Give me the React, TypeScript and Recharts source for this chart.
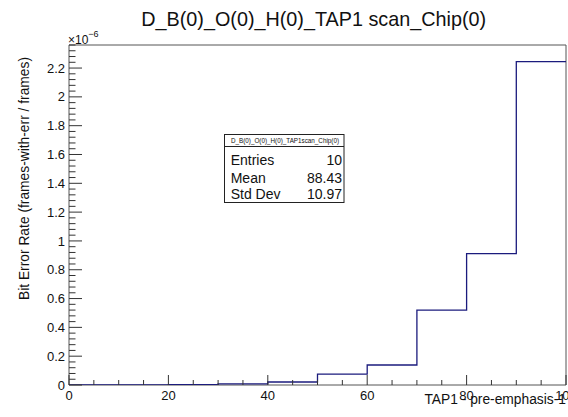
import React from 'react';
import { LineChart, Line, XAxis, YAxis, ReferenceArea } from 'recharts';

// Histogram: bin lower edges (width 10) and bin contents in units of 1e-6
const BIN_EDGES = [0, 10, 20, 30, 40, 50, 60, 70, 80, 90];
const BER_E6 = [0, 0, 0.003, 0.008, 0.021, 0.076, 0.139, 0.52, 0.912, 2.245];
const X_MAX = 100;
const Y_MAX = 2.36;

const X_TICK_LABELS = ['0', '20', '40', '60', '80', '100'];
const Y_TICK_LABELS = ['0', '0.2', '0.4', '0.6', '0.8', '1', '1.2', '1.4', '1.6', '1.8', '2', '2.2'];

const TITLE = 'D_B(0)_O(0)_H(0)_TAP1 scan_Chip(0)';
const X_TITLE = 'TAP1 - pre-emphasis-1';
const Y_TITLE = 'Bit Error Rate (frames-with-err / frames)';
const STATS_NAME = 'D_B(0)_O(0)_H(0)_TAP1scan_Chip(0)';
const STATS_LABELS = ['Entries', 'Mean', 'Std Dev'];
const STATS_VALUES = ['10', '88.43', '10.97'];

const FONT = '"Liberation Sans", Arial, Helvetica, sans-serif';
const TICK = '#333';
const FRAME = '#555';
const TEXT = '#111';
const LINE = '#1b1b7d';

const data = [
  ...BIN_EDGES.map((x, i) => ({ x, y: BER_E6[i] })),
  { x: X_MAX, y: BER_E6[BER_E6.length - 1] },
];

const xMajor = X_TICK_LABELS.map(Number);
const yMajor = Y_TICK_LABELS.map(Number);
const X_TICKS = Array.from({ length: 21 }, (_, i) => i * 5);
const Y_TICKS = Array.from({ length: 60 }, (_, i) => Math.round(i * 4) / 100).filter((v) => v <= Y_MAX);

const XTick = (props: any) => {
  const { x, y, payload } = props;
  const v = payload.value;
  const major = xMajor.some((m) => Math.abs(m - v) < 1e-9);
  return (
    <g>
      <line x1={x} x2={x} y1={y} y2={y - (major ? 10 : 5)} stroke={TICK} strokeWidth={1} />
      {major && (
        <text x={x} y={y + 14.5} textAnchor="middle" fontSize={13} fill={TEXT} fontFamily={FONT}>
          {String(v)}
        </text>
      )}
    </g>
  );
};

const YTick = (props: any) => {
  const { x, y, payload } = props;
  const v = payload.value;
  const idx = yMajor.findIndex((m) => Math.abs(m - v) < 1e-9);
  const major = idx >= 0;
  return (
    <g>
      <line x1={x} x2={x + (major ? 13 : 6.5)} y1={y} y2={y} stroke={TICK} strokeWidth={1} />
      {major && (
        <text x={x - 4} y={y + 4.6} textAnchor="end" fontSize={13} fill={TEXT} fontFamily={FONT}>
          {Y_TICK_LABELS[idx]}
        </text>
      )}
    </g>
  );
};

export default function App() {
  return (
    <div style={{ position: 'absolute', left: 0, top: 0, width: 568, height: 417, background: '#fff' }}>
      <LineChart width={568} height={417} data={data} margin={{ top: 45, right: 2, bottom: 0, left: 0 }}>
        <XAxis
          dataKey="x"
          type="number"
          domain={[0, X_MAX]}
          ticks={X_TICKS}
          interval={0}
          tickSize={0}
          tickMargin={0}
          tickLine={false}
          axisLine={false}
          height={32}
          tick={<XTick />}
          allowDataOverflow
        />
        <YAxis
          type="number"
          domain={[0, Y_MAX]}
          ticks={Y_TICKS}
          interval={0}
          tickSize={0}
          tickMargin={0}
          tickLine={false}
          axisLine={false}
          width={69}
          tick={<YTick />}
          allowDataOverflow
        />
        <Line
          type="stepAfter"
          dataKey="y"
          stroke={LINE}
          strokeWidth={1.3}
          dot={false}
          activeDot={false}
          isAnimationActive={false}
        />
        <ReferenceArea
          x1={0}
          x2={X_MAX}
          y1={0}
          y2={Y_MAX}
          fill="none"
          fillOpacity={0}
          stroke={FRAME}
          strokeWidth={1}
          ifOverflow="visible"
        />
      </LineChart>
      <svg
        width={568}
        height={417}
        style={{ position: 'absolute', left: 0, top: 0, pointerEvents: 'none' }}
        fontFamily={FONT}
      >
        <text x={313.7} y={26} textAnchor="middle" fontSize={19.8} fill={TEXT}>
          {TITLE}
        </text>
        <text x={68} y={44} fontSize={12} fill={TEXT}>
          ×10
          <tspan fontSize={9} dy={-7}>
            −6
          </tspan>
        </text>
        <text x={566} y={403.5} textAnchor="end" fontSize={13.8} fill={TEXT}>
          {X_TITLE}
        </text>
        <text transform="translate(29,57) rotate(-90)" x={0} y={0} textAnchor="end" fontSize={13.8} fill={TEXT}>
          {Y_TITLE}
        </text>
        <rect x={224.5} y={134.5} width={119.5} height={68} fill="#fff" stroke="#222" strokeWidth={1} />
        <line x1={224.5} x2={344} y1={146.5} y2={146.5} stroke="#222" strokeWidth={1} />
        <text x={285} y={143} textAnchor="middle" fontSize={6.3} fill={TEXT}>
          {STATS_NAME}
        </text>
        {STATS_LABELS.map((l, i) => (
          <text key={l} x={230.7} y={[165, 183.3, 199.3][i]} fontSize={14} fill={TEXT}>
            {l}
          </text>
        ))}
        {STATS_VALUES.map((v, i) => (
          <text key={'v' + i} x={342} y={[165, 183.3, 199.3][i]} textAnchor="end" fontSize={14} fill={TEXT}>
            {v}
          </text>
        ))}
      </svg>
    </div>
  );
}
